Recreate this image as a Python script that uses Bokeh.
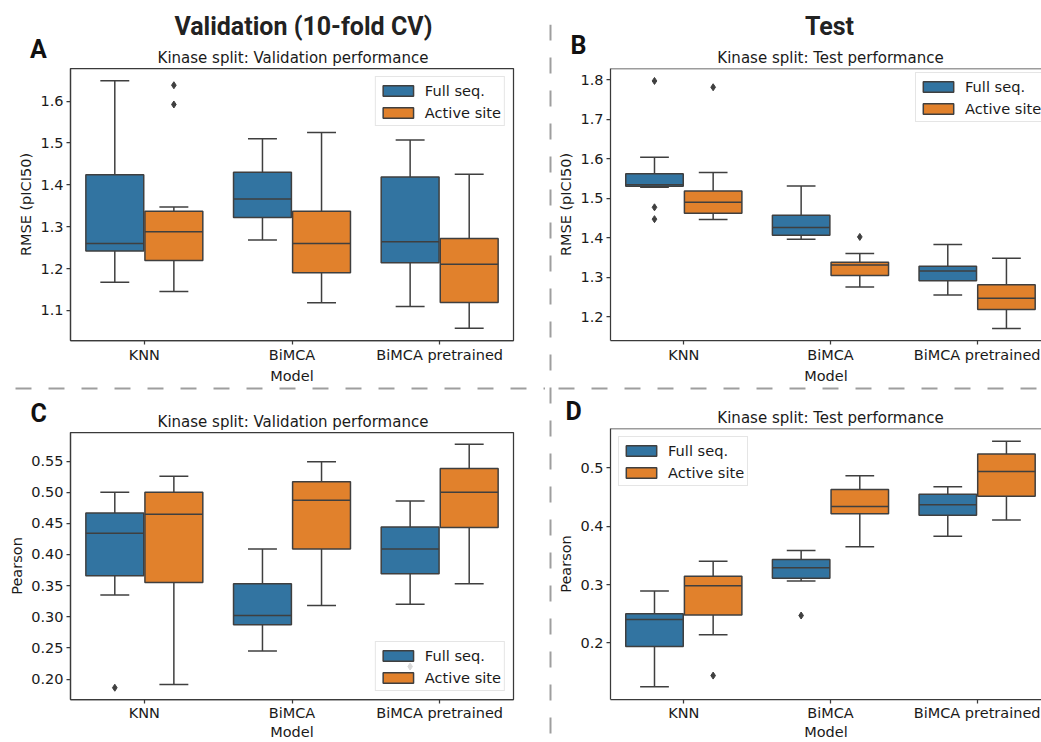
from bokeh.plotting import figure
from bokeh.models import (Range1d, Span, Label, Legend, LegendItem, ColumnDataSource,
                          FixedTicker, PrintfTickFormatter)
from bokeh.layouts import row, column
from bokeh.embed import file_html
from bokeh.resources import INLINE

# ---------------- data ----------------
models = ["KNN", "BiMCA", "BiMCA pretrained"]
hues = ["Full seq.", "Active site"]

# box statistics per model: [lower whisker, Q1, median, Q3, upper whisker]
a_full = [[1.167, 1.242, 1.260, 1.424, 1.649],
          [1.268, 1.322, 1.366, 1.430, 1.510],
          [1.109, 1.214, 1.264, 1.419, 1.507]]
a_active = [[1.145, 1.219, 1.288, 1.337, 1.347],
            [1.118, 1.190, 1.260, 1.337, 1.525],
            [1.057, 1.119, 1.210, 1.272, 1.425]]
a_full_out = [[], [], []]
a_active_out = [[1.638, 1.592], [], []]

b_full = [[1.528, 1.530, 1.534, 1.562, 1.604],
          [1.396, 1.406, 1.426, 1.457, 1.531],
          [1.255, 1.291, 1.316, 1.328, 1.383]]
b_active = [[1.446, 1.462, 1.490, 1.518, 1.565],
            [1.275, 1.304, 1.331, 1.338, 1.360],
            [1.170, 1.218, 1.247, 1.281, 1.348]]
b_full_out = [[1.797, 1.477, 1.447], [], []]
b_active_out = [[1.781], [1.402], []]

c_full = [[0.335, 0.366, 0.434, 0.4665, 0.500],
          [0.245, 0.287, 0.302, 0.353, 0.409],
          [0.320, 0.369, 0.409, 0.444, 0.486]]
c_active = [[0.191, 0.355, 0.4645, 0.500, 0.5255],
            [0.318, 0.409, 0.487, 0.517, 0.549],
            [0.353, 0.4435, 0.500, 0.538, 0.577]]
c_full_out = [[0.186], [], [0.220]]
c_active_out = [[], [], []]

d_full = [[0.125, 0.194, 0.240, 0.250, 0.289],
          [0.306, 0.311, 0.329, 0.343, 0.3585],
          [0.383, 0.419, 0.437, 0.455, 0.468]]
d_active = [[0.214, 0.248, 0.298, 0.3145, 0.340],
            [0.365, 0.4215, 0.434, 0.463, 0.4865],
            [0.411, 0.4515, 0.494, 0.524, 0.546]]
d_full_out = [[], [0.247], []]
d_active_out = [[0.144], [], []]

rmse_ticks_a = [1.1, 1.2, 1.3, 1.4, 1.5, 1.6]
rmse_ticks_b = [1.2, 1.3, 1.4, 1.5, 1.6, 1.7, 1.8]
pearson_ticks_c = [0.20, 0.25, 0.30, 0.35, 0.40, 0.45, 0.50, 0.55]
pearson_ticks_d = [0.2, 0.3, 0.4, 0.5]

# ---------------- style ----------------
BLUE, ORANGE = "#3274a1", "#e1812c"
EDGE = "#3f3f3f"
SPINE = "#3a3a3a"
TXT = "#1a1a1a"
DIVC = "#9e9e9e"
FONT = "DejaVu Sans"
HFONT = "Roboto"

W_L, W_R, W_DIV = 545, 486, 10
REF_FW = 443.0  # frame width spanned by the 3 categories
BOX_W = 0.392
CAP_W = 0.196


def panel(full, act, full_out, act_out, yrange, ticks, fmt, ylabel, width, height,
          bl, br, bt, bb, legend_loc, clip_right=False, tight=False):
    fw = width - bl - br
    fh = height - bt - bb
    x_end = -0.5 + fw / (REF_FW / 3.0)
    p = figure(width=width, height=height, output_backend="svg", toolbar_location=None,
               x_range=Range1d(-0.5, x_end), y_range=Range1d(*yrange),
               min_border_left=bl, min_border_right=br, min_border_top=bt,
               min_border_bottom=bb, background_fill_color="white",
               border_fill_color="white", frame_align=False)
    p.grid.visible = False
    if clip_right:
        p.outline_line_color = None
        p.add_layout(Span(location=yrange[1], dimension="width", line_color=SPINE,
                          line_width=1.25))
    else:
        p.outline_line_color = SPINE
        p.outline_line_width = 1.25

    renders = []
    for stats, outs, off, col in ((full, full_out, -0.2, BLUE), (act, act_out, 0.2, ORANGE)):
        xs = [i + off for i in range(len(models))]
        src = ColumnDataSource(dict(
            x=xs, lo=[s[0] for s in stats], q1=[s[1] for s in stats],
            med=[s[2] for s in stats], q3=[s[3] for s in stats], hi=[s[4] for s in stats],
            xl=[x - BOX_W / 2 for x in xs], xr=[x + BOX_W / 2 for x in xs],
            cl=[x - CAP_W / 2 for x in xs], cr=[x + CAP_W / 2 for x in xs]))
        kw = dict(source=src, line_color=EDGE, line_width=1.5)
        p.segment(x0="x", y0="q3", x1="x", y1="hi", **kw)
        p.segment(x0="x", y0="q1", x1="x", y1="lo", **kw)
        p.segment(x0="cl", y0="hi", x1="cr", y1="hi", **kw)
        p.segment(x0="cl", y0="lo", x1="cr", y1="lo", **kw)
        r = p.vbar(x="x", width=BOX_W, bottom="q1", top="q3", fill_color=col, **kw)
        renders.append(r)
        p.segment(x0="xl", y0="med", x1="xr", y1="med", **kw)
        ox = [i + off for i, vals in enumerate(outs) for _ in vals]
        oy = [v for vals in outs for v in vals]
        if ox:
            p.scatter(ox, oy, marker="diamond", size=7, fill_color=EDGE, line_color=EDGE)

    p.xaxis.ticker = FixedTicker(ticks=list(range(len(models))))
    p.xaxis.major_label_overrides = {i: m for i, m in enumerate(models)}
    p.xaxis.axis_label = "Model"
    p.yaxis.ticker = FixedTicker(ticks=ticks)
    p.yaxis.formatter = PrintfTickFormatter(format=fmt)
    p.yaxis.axis_label = ylabel
    for ax in (p.xaxis, p.yaxis):
        ax.axis_line_color = SPINE
        ax.axis_line_width = 1.25
        ax.major_tick_line_color = SPINE
        ax.major_tick_line_width = 1.25
        ax.major_tick_out = 4
        ax.major_tick_in = 0
        ax.minor_tick_line_color = None
        ax.major_label_text_font = FONT
        ax.major_label_text_font_size = "14.5px"
        ax.major_label_text_color = TXT
        ax.axis_label_text_font = FONT
        ax.axis_label_text_font_size = "14.5px"
        ax.axis_label_text_font_style = "normal"
        ax.axis_label_text_color = TXT
    p.xaxis.major_label_standoff = 1 if tight else 2
    p.xaxis.axis_label_standoff = 0 if tight else 2
    p.yaxis.major_label_standoff = 3
    p.yaxis.axis_label_standoff = 3

    leg = Legend(items=[LegendItem(label=hues[0], renderers=[renders[0]]),
                        LegendItem(label=hues[1], renderers=[renders[1]])])
    if isinstance(legend_loc, tuple):
        lx, ly_top = legend_loc
        leg.location = (lx, fh - ly_top - 48)
    else:
        leg.location = legend_loc
    leg.margin = 8
    leg.padding = 3
    leg.spacing = 2
    leg.glyph_width = 38
    leg.glyph_height = 13
    leg.label_standoff = 8
    leg.label_height = 20
    leg.label_text_font = FONT
    leg.label_text_font_size = "14.6px"
    leg.label_text_color = TXT
    leg.border_line_color = "#cccccc"
    leg.border_line_width = 1
    leg.background_fill_color = "white"
    leg.background_fill_alpha = 0.8
    p.add_layout(leg)
    return p


def header(width, height, letter, letter_xy, sub, sub_xy, head=None, head_xy=None,
           dash_offset=None):
    """Strip above a panel: panel letter, subtitle, optional column header and divider."""
    h = figure(width=width, height=height, output_backend="svg", toolbar_location=None,
               x_range=Range1d(0, width), y_range=Range1d(height, 0), x_axis_type=None,
               y_axis_type=None, min_border=0, outline_line_color=None,
               background_fill_color="white", border_fill_color="white", frame_align=False)
    if dash_offset is not None:
        h.add_layout(Span(location=2, dimension="width", line_color=DIVC, line_width=2,
                          line_dash="16 17", line_dash_offset=dash_offset))
    h.add_layout(Label(x=sub_xy[0], y=sub_xy[1], text=sub, text_font=FONT,
                       text_font_size="15px", text_color=TXT, text_align="center",
                       text_baseline="alphabetic"))
    h.add_layout(Label(x=letter_xy[0], y=letter_xy[1], text=letter, text_font=HFONT,
                       text_font_style="bold", text_font_size="25px", text_color="#111111",
                       text_align="left", text_baseline="alphabetic"))
    if head:
        h.add_layout(Label(x=head_xy[0], y=head_xy[1], text=head, text_font=HFONT,
                           text_font_style="bold", text_font_size="25px",
                           text_color="#222222", text_align="center",
                           text_baseline="alphabetic"))
    return h


hA = header(W_L, 66, "A", (29.5, 49.3), "Kinase split: Validation performance", (292.5, 57.7),
            head="Validation (10-fold CV)", head_xy=(303, 26))
pA = panel(a_full, a_active, a_full_out, a_active_out, (1.028, 1.678), rmse_ticks_a, "%.1f",
           "RMSE (pICI50)", W_L, 320, 70, 32, 2, 44, "top_right")

hB = header(W_R, 66, "B", (15, 45), "Kinase split: Test performance", (275, 57.7),
            head="Test", head_xy=(274, 26))
pB = panel(b_full, b_active, b_full_out, b_active_out, (1.1397, 1.8285), rmse_ticks_b, "%.1f",
           "RMSE (pICI50)", W_R, 320, 52, 0, 2, 44, (305, 8.3), clip_right=True)

hC = header(W_L, 44, "C", (30, 27.3), "Kinase split: Validation performance", (292.5, 35),
            dash_offset=18)
pC = panel(c_full, c_active, c_full_out, c_active_out, (0.1671, 0.5959), pearson_ticks_c, "%.2f",
           "Pearson", W_L, 312, 70, 32, 2, 40, "bottom_right", tight=True)

hD = header(W_R, 41, "D", (10, 25), "Kinase split: Test performance", (275, 31),
            dash_offset=30)
pD = panel(d_full, d_active, d_full_out, d_active_out, (0.103, 0.5677), pearson_ticks_d, "%.1f",
           "Pearson", W_R, 315, 52, 0, 1, 43, "top_left", clip_right=True, tight=True)

vD = figure(width=W_DIV, height=742, output_backend="svg", toolbar_location=None,
            x_range=Range1d(-1, 1), y_range=Range1d(-1, 1), x_axis_type=None,
            y_axis_type=None, min_border=0, min_border_top=24, outline_line_color=None,
            background_fill_color="white", border_fill_color="white", frame_align=False)
vD.add_layout(Span(location=0, dimension="height", line_color=DIVC, line_width=2,
                   line_dash="16 17"))

layout = row(column(hA, pA, hC, pC), vD, column(hB, pB, hD, pD))

html = file_html(layout, INLINE)
with open("out.html", "w") as f:
    f.write(html)
